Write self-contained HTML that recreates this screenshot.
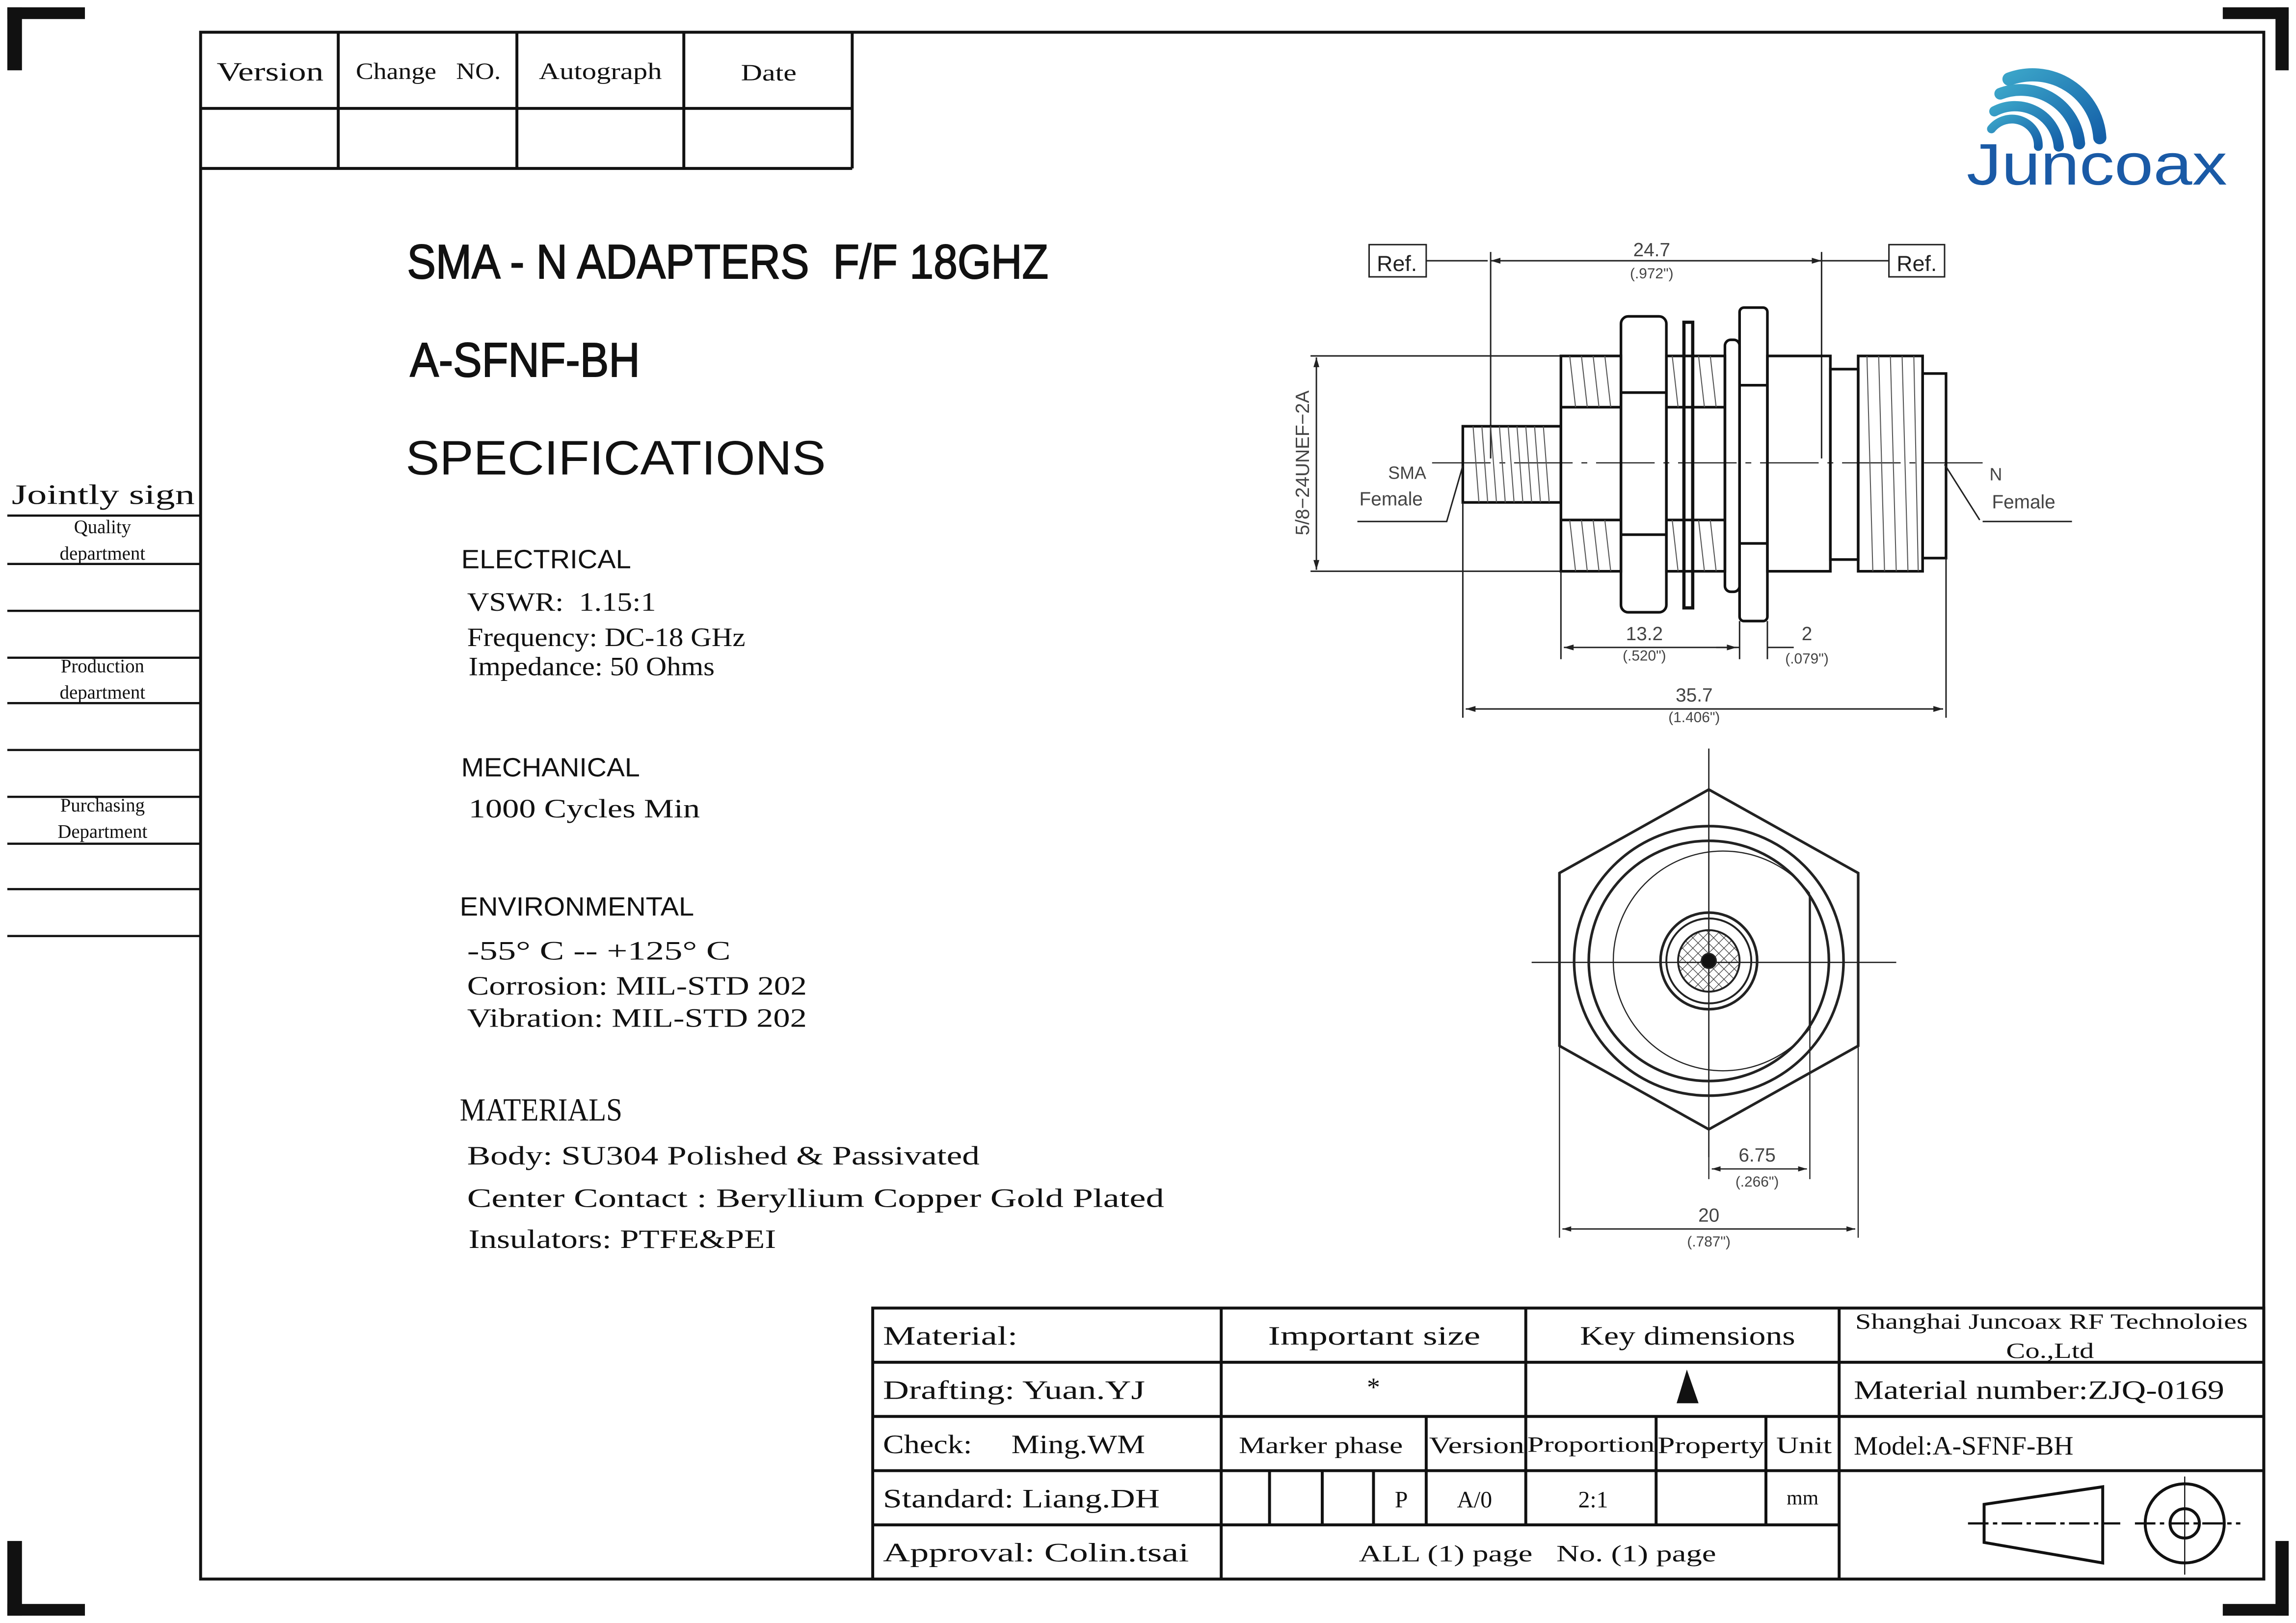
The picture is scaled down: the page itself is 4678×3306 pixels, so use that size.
<!DOCTYPE html>
<html><head><meta charset="utf-8"><style>
html,body{margin:0;padding:0;background:#fff;}
svg{display:block;}
.s{font-family:"Liberation Serif","Noto Serif CJK SC",serif;fill:#111;}
.a{font-family:"Liberation Sans","Noto Sans CJK SC",sans-serif;fill:#111;}
.d{font-family:"Liberation Sans",sans-serif;fill:#444;}
</style></head><body>
<svg width="4678" height="3306" viewBox="0 0 1568 1108" preserveAspectRatio="none" xmlns="http://www.w3.org/2000/svg">
<defs>
<marker id="ar" viewBox="0 0 10 6" refX="10" refY="3" markerWidth="8" markerHeight="4" orient="auto-start-reverse"><path d="M0,0L10,3L0,6z" fill="#222"/></marker>
<pattern id="hx" width="5" height="5" patternUnits="userSpaceOnUse" patternTransform="rotate(45)"><path d="M0,0V5M0,0H5" stroke="#333" stroke-width="0.8"/></pattern>
<linearGradient id="bl" x1="0" y1="0" x2="1" y2="1"><stop offset="0" stop-color="#3aa3c8"/><stop offset="1" stop-color="#1560a8"/></linearGradient>
</defs>
<rect width="1568" height="1108" fill="#fff"/>
<g fill="#111">
<rect x="5" y="5" width="10" height="43"/><rect x="5" y="5" width="53" height="8"/>
<rect x="1554" y="5" width="9" height="43"/><rect x="1518" y="5" width="45" height="8"/>
<rect x="5" y="1052" width="10" height="51"/><rect x="5" y="1095" width="53" height="8"/>
<rect x="1554" y="1052" width="9" height="51"/><rect x="1518" y="1095" width="45" height="8"/>
</g>
<rect x="137" y="22" width="1409" height="1056" fill="none" stroke="#111" stroke-width="2"/>
<g stroke="#111" stroke-width="2" fill="none">
<path d="M137,74H582M137,115H582M582,22V115M231,22V115M353,22V115M467,22V115"/>
</g>
<g class="s" font-size="18" lengthAdjust="spacingAndGlyphs">
<text x="148" y="55" textLength="73" lengthAdjust="spacingAndGlyphs">Version</text>
<text x="243" y="54" font-size="16" textLength="99" lengthAdjust="spacingAndGlyphs">Change&#160;&#160;&#160;NO.</text>
<text x="368" y="54" font-size="16" textLength="84" lengthAdjust="spacingAndGlyphs">Autograph</text>
<text x="506" y="55" font-size="16" textLength="38" lengthAdjust="spacingAndGlyphs">Date</text>
</g>
<text class="s" x="8" y="344" font-size="19" textLength="125" lengthAdjust="spacingAndGlyphs">Jointly sign</text>
<g stroke="#111" stroke-width="1.5"><path d="M5,352H137M5,385H137M5,417H137M5,449H137M5,480H137M5,512H137M5,544H137M5,576H137M5,607H137M5,639H137"/></g>
<g class="s" font-size="13" text-anchor="middle">
<text x="70" y="364">Quality</text><text x="70" y="382">department</text>
<text x="70" y="459">Production</text><text x="70" y="477">department</text>
<text x="70" y="554">Purchasing</text><text x="70" y="572">Department</text>
</g>
<g fill="none" stroke="url(#bl)" stroke-linecap="round">
<path d="M1360,88 A18,18 0 0 1 1392,100" stroke-width="6"/>
<path d="M1362,76 A30,30 0 0 1 1406,100" stroke-width="7"/>
<path d="M1366,64 A40,40 0 0 1 1420,98" stroke-width="8"/>
<path d="M1372,54 A46,46 0 0 1 1434,94" stroke-width="9"/>
</g>
<text x="1343" y="126" font-family="Liberation Sans,sans-serif" font-size="40" fill="#1a5aa6" textLength="178" lengthAdjust="spacingAndGlyphs">Juncoax</text>
<text class="a" x="278" y="190" font-size="33" stroke="#111" stroke-width="0.7" textLength="438" lengthAdjust="spacingAndGlyphs">SMA - N ADAPTERS&#160; F/F 18GHZ</text>
<text class="a" x="280" y="257" font-size="33" stroke="#111" stroke-width="0.7" textLength="157" lengthAdjust="spacingAndGlyphs">A-SFNF-BH</text>
<text class="a" x="277" y="324" font-size="33" textLength="287" lengthAdjust="spacingAndGlyphs">SPECIFICATIONS</text>
<g class="a" font-size="18">
<text x="315" y="388" textLength="116" lengthAdjust="spacingAndGlyphs">ELECTRICAL</text>
<text x="315" y="530" textLength="122" lengthAdjust="spacingAndGlyphs">MECHANICAL</text>
<text x="314" y="625" textLength="160" lengthAdjust="spacingAndGlyphs">ENVIRONMENTAL</text>
</g>
<text class="s" x="314" y="765" font-size="22" textLength="111" lengthAdjust="spacingAndGlyphs">MATERIALS</text>
<g class="s" font-size="18">
<text x="319" y="417" textLength="129" lengthAdjust="spacingAndGlyphs">VSWR:&#160; 1.15:1</text>
<text x="319" y="441" textLength="190" lengthAdjust="spacingAndGlyphs">Frequency: DC-18 GHz</text>
<text x="320" y="461" textLength="168" lengthAdjust="spacingAndGlyphs">Impedance: 50 Ohms</text>
<text x="320" y="558" textLength="158" lengthAdjust="spacingAndGlyphs">1000 Cycles Min</text>
<text x="319" y="655" textLength="180" lengthAdjust="spacingAndGlyphs">-55° C -- +125° C</text>
<text x="319" y="679" textLength="232" lengthAdjust="spacingAndGlyphs">Corrosion: MIL-STD 202</text>
<text x="319" y="701" textLength="232" lengthAdjust="spacingAndGlyphs">Vibration: MIL-STD 202</text>
<text x="319" y="795" textLength="350" lengthAdjust="spacingAndGlyphs">Body: SU304 Polished &amp; Passivated</text>
<text x="319" y="824" textLength="476" lengthAdjust="spacingAndGlyphs">Center Contact : Beryllium Copper Gold Plated</text>
<text x="320" y="852" textLength="210" lengthAdjust="spacingAndGlyphs">Insulators: PTFE&amp;PEI</text>
</g>
<g stroke="#222" fill="none" stroke-width="1">
<rect x="935" y="167" width="39" height="22"/><rect x="1290" y="167" width="38" height="22"/>
<path d="M974,178H1016M1240,178H1290"/>
<path d="M1018,178H1244" marker-start="url(#ar)" marker-end="url(#ar)"/>
<path d="M1018,172V313M1244,172V313"/>
<path d="M978,316H1355" stroke-dasharray="40,6,4,6" stroke-width="0.8"/>
<path d="M895,243H1077M895,390H1077"/>
<path d="M899,244V389" marker-start="url(#ar)" marker-end="url(#ar)"/>
</g>
<g stroke="#111" fill="none" stroke-width="1.8">
<rect x="999" y="291" width="67" height="52"/>
<rect x="1066" y="243" width="41" height="147"/>
<path d="M1066,278H1107M1066,355H1107"/>
<rect x="1107" y="216" width="31" height="202" rx="5"/>
<path d="M1107,268H1138M1107,365H1138"/>
<rect x="1150" y="220" width="6" height="195" stroke-width="2.2"/>
<rect x="1138" y="243" width="40" height="147"/>
<path d="M1138,278H1178M1138,355H1178"/>
<rect x="1178" y="232" width="10" height="172" rx="4"/>
<rect x="1188" y="210" width="19" height="214" rx="3"/>
<path d="M1188,263H1207M1188,371H1207"/>
<rect x="1207" y="243" width="43" height="147"/>
<rect x="1250" y="252" width="19" height="130"/>
<rect x="1269" y="243" width="44" height="147"/>
<rect x="1313" y="255" width="16" height="126"/>
</g>
<g stroke="#555" stroke-width="0.7" fill="none">
<path d="M1006,291L1010,343M1012,291L1016,343M1018,291L1022,343M1024,291L1028,343M1030,291L1034,343M1036,291L1040,343M1042,291L1046,343M1048,291L1052,343M1054,291L1058,343"/>
<path d="M1072,243L1076,278M1080,243L1084,278M1088,243L1092,278M1096,243L1100,278M1072,355L1076,390M1080,355L1084,390M1088,355L1092,390M1096,355L1100,390"/>
<path d="M1142,243L1146,278M1160,243L1164,278M1168,243L1172,278M1142,355L1146,390M1160,355L1164,390M1168,355L1172,390"/>
<path d="M1275,243L1279,390M1283,243L1287,390M1291,243L1295,390M1299,243L1303,390M1307,243L1310,390"/>
</g>
<g stroke="#222" fill="none" stroke-width="1">
<path d="M927,356H988L999,318"/>
<path d="M1354,356H1415M1352,355L1328,317"/>
<path d="M1066,390V450M1188,424V450M1207,424V450M999,343V490M1329,381V490"/>
<path d="M1068,442H1186" marker-start="url(#ar)" marker-end="url(#ar)"/>
<path d="M1172,442H1188M1207,442H1225"/>
<path d="M1001,484H1327" marker-start="url(#ar)" marker-end="url(#ar)"/>
</g>
<g class="d" font-size="13" text-anchor="middle">
<text x="1128" y="175">24.7</text><text x="1128" y="190" font-size="10">(.972")</text>
<text x="954" y="185" font-size="15" fill="#222">Ref.</text><text x="1309" y="185" font-size="15" fill="#222">Ref.</text>
<text x="1123" y="437">13.2</text><text x="1123" y="451" font-size="10">(.520")</text>
<text x="1234" y="437">2</text><text x="1234" y="453" font-size="10">(.079")</text>
<text x="1157" y="479">35.7</text><text x="1157" y="493" font-size="10">(1.406")</text>
<text x="961" y="327" font-size="12">SMA</text><text x="950" y="345">Female</text>
<text x="1363" y="328" font-size="12">N</text><text x="1382" y="347">Female</text>
<text transform="translate(894,316) rotate(-90)" font-size="13">5/8−24UNEF−2A</text>
<text x="1200" y="793">6.75</text><text x="1200" y="810" font-size="10">(.266")</text>
<text x="1167" y="834">20</text><text x="1167" y="851" font-size="10">(.787")</text>
</g>
<g stroke="#222" fill="none">
<path d="M1046,657H1295M1167,511V790" stroke-width="0.9"/>
<path d="M1167,539L1269,596V714L1167,771L1065,714V596Z" stroke-width="1.8"/>
<circle cx="1167" cy="656" r="92" stroke-width="1.8"/>
<circle cx="1167" cy="656" r="82" stroke-width="1.8"/>
<path d="M1236,610A75,75 0 1 0 1236,702" stroke-width="0.8"/>
<path d="M1236,612V702" stroke-width="1.5"/>
<circle cx="1167" cy="656" r="33" stroke-width="1.8"/>
<circle cx="1167" cy="656" r="29" stroke-width="1.3"/>
<circle cx="1167" cy="656" r="21" fill="url(#hx)" stroke-width="1.3"/>
<circle cx="1167" cy="656" r="5" fill="#111"/>
<path d="M1167,771V805M1236,702V805M1065,714V845M1269,714V845" stroke-width="0.8"/>
<path d="M1169,798H1234" marker-start="url(#ar)" marker-end="url(#ar)" stroke-width="0.9"/>
<path d="M1067,839H1267" marker-start="url(#ar)" marker-end="url(#ar)" stroke-width="0.9"/>
</g>
<g stroke="#111" fill="none" stroke-width="2">
<rect x="596" y="893" width="950" height="185"/>
<path d="M596,930H1546M596,967H1546M596,1004H1546M596,1041H1256"/>
<path d="M834,893V1078M1042,893V1041M1256,893V1078"/>
<path d="M974,967V1041M1131,967V1041M1206,967V1041M867,1004V1041M903,1004V1041M938,1004V1041"/>
</g>
<g class="s" font-size="18">
<text x="603" y="918" textLength="92" lengthAdjust="spacingAndGlyphs">Material:</text>
<text x="603" y="955" textLength="179" lengthAdjust="spacingAndGlyphs">Drafting: Yuan.YJ</text>
<text x="603" y="992" textLength="179" lengthAdjust="spacingAndGlyphs">Check:&#160;&#160;&#160;&#160; Ming.WM</text>
<text x="603" y="1029" textLength="189" lengthAdjust="spacingAndGlyphs">Standard: Liang.DH</text>
<text x="603" y="1066" textLength="209" lengthAdjust="spacingAndGlyphs">Approval: Colin.tsai</text>
<text x="866" y="918" textLength="145" lengthAdjust="spacingAndGlyphs">Important size</text>
<text x="1079" y="918" textLength="147" lengthAdjust="spacingAndGlyphs">Key dimensions</text>
<text x="938" y="953" text-anchor="middle">*</text>
<text x="846" y="992" font-size="16" textLength="112" lengthAdjust="spacingAndGlyphs">Marker phase</text>
<text x="976" y="992" font-size="16" textLength="65" lengthAdjust="spacingAndGlyphs">Version</text>
<text x="1043" y="991" font-size="15" textLength="87" lengthAdjust="spacingAndGlyphs">Proportion</text>
<text x="1132" y="992" font-size="16" textLength="73" lengthAdjust="spacingAndGlyphs">Property</text>
<text x="1213" y="992" font-size="16" textLength="38" lengthAdjust="spacingAndGlyphs">Unit</text>
<text x="957" y="1029" text-anchor="middle" font-size="16">P</text>
<text x="1007" y="1029" text-anchor="middle" font-size="16">A/0</text>
<text x="1088" y="1029" text-anchor="middle" font-size="16">2:1</text>
<text x="1231" y="1027" text-anchor="middle" font-size="14">mm</text>
<text x="928" y="1066" font-size="16" textLength="244" lengthAdjust="spacingAndGlyphs">ALL (1) page&#160;&#160; No. (1) page</text>
<text x="1267" y="907" font-size="15" textLength="268" lengthAdjust="spacingAndGlyphs">Shanghai Juncoax RF Technoloies</text>
<text x="1400" y="927" text-anchor="middle" font-size="15" textLength="60" lengthAdjust="spacingAndGlyphs">Co.,Ltd</text>
<text x="1266" y="955" textLength="253" lengthAdjust="spacingAndGlyphs">Material number:ZJQ-0169</text>
<text x="1266" y="993" textLength="150" lengthAdjust="spacingAndGlyphs">Model:A-SFNF-BH</text>
</g>
<path d="M1152,935L1145,958H1160Z" fill="#111"/>
<g stroke="#111" fill="none" stroke-width="2">
<path d="M1355,1027L1436,1015V1067L1355,1053Z"/>
<circle cx="1492" cy="1040" r="27"/><circle cx="1492" cy="1040" r="10"/>
</g>
<g stroke="#111" stroke-width="1.5" fill="none">
<path d="M1344,1040H1448M1458,1040H1530" stroke-dasharray="14,3,3,3"/>
<path d="M1492,1008V1075" stroke-width="0.8"/>
</g>
</svg>
</body></html>
